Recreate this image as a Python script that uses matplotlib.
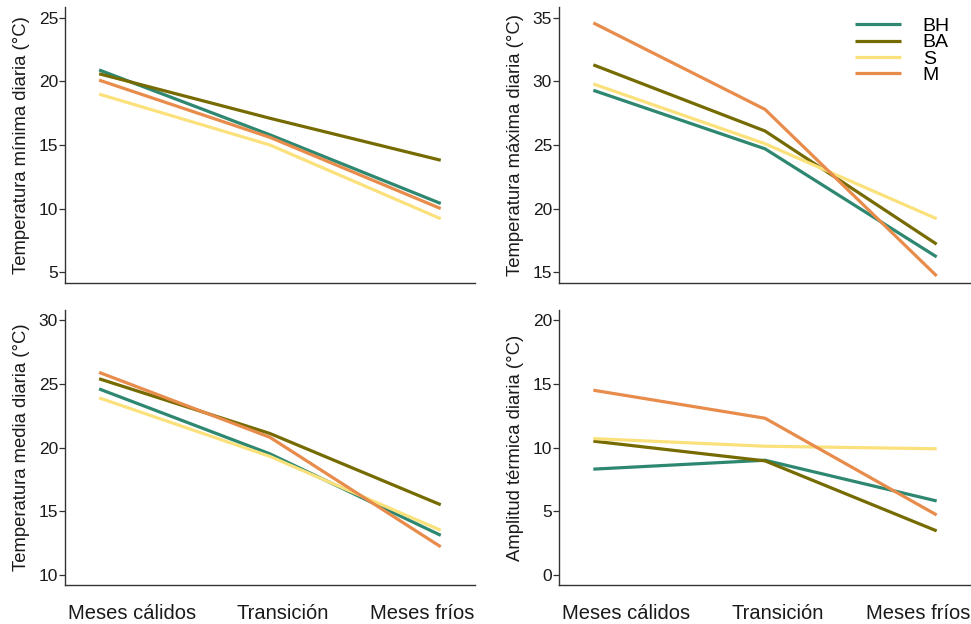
import matplotlib
matplotlib.use("Agg")
import matplotlib.pyplot as plt

plt.rcParams['font.family'] = ['Liberation Sans', 'DejaVu Sans']

# Seasonal periods on the x axis
periods = ["Meses cálidos", "Transición", "Meses fríos"]
sites = ["BH", "BA", "S", "M"]
colors = {"BH": "#2e8770", "BA": "#756b00", "S": "#fbe17c", "M": "#e88c4c"}

# Daily minimum temperature (°C)
tmin_bh = [20.9, 15.8, 10.4]
tmin_ba = [20.6, 17.1, 13.8]
tmin_s = [19.0, 15.0, 9.2]
tmin_m = [20.1, 15.6, 10.0]

# Daily maximum temperature (°C)
tmax_bh = [29.3, 24.7, 16.2]
tmax_ba = [31.3, 26.1, 17.2]
tmax_s = [29.8, 25.1, 19.2]
tmax_m = [34.6, 27.8, 14.7]

# Daily mean temperature (°C)
tmean_bh = [24.6, 19.5, 13.1]
tmean_ba = [25.4, 21.1, 15.5]
tmean_s = [23.9, 19.3, 13.5]
tmean_m = [25.9, 20.8, 12.2]

# Daily thermal amplitude (°C)
amp_bh = [8.3, 9.0, 5.8]
amp_ba = [10.5, 8.95, 3.45]
amp_s = [10.7, 10.1, 9.9]
amp_m = [14.5, 12.3, 4.7]

panels = [
    ("Temperatura mínima diaria (°C)", [tmin_bh, tmin_ba, tmin_s, tmin_m], (4.15, 25.85), [5, 10, 15, 20, 25]),
    ("Temperatura máxima diaria (°C)", [tmax_bh, tmax_ba, tmax_s, tmax_m], (14.15, 35.85), [15, 20, 25, 30, 35]),
    ("Temperatura media diaria (°C)", [tmean_bh, tmean_ba, tmean_s, tmean_m], (9.2, 30.8), [10, 15, 20, 25, 30]),
    ("Amplitud térmica diaria (°C)", [amp_bh, amp_ba, amp_s, amp_m], (-0.8, 20.8), [0, 5, 10, 15, 20]),
]

# axes rectangles [left, bottom, width, height] in figure fraction
rects = [
    [0.0669, 0.5465, 0.4222, 0.4423],
    [0.5757, 0.5465, 0.4243, 0.4423],
    [0.0669, 0.0625, 0.4222, 0.4407],
    [0.5757, 0.0625, 0.4243, 0.4407],
]

fig = plt.figure(figsize=(9.71, 6.24), dpi=100)
x = [1, 2, 3]
# period labels sit a little off the line vertices
label_pos = [1.19, 2.075, 2.89]

for i, (ylabel, series, ylim, yticks) in enumerate(panels):
    ax = fig.add_axes(rects[i])
    for name, vals in zip(sites, series):
        ax.plot(x, vals, color=colors[name], lw=2.3, label=name, solid_capstyle='butt')
    ax.set_xlim(0.8, 3.2)
    ax.set_ylim(*ylim)
    ax.set_yticks(yticks)
    ax.set_xticks(label_pos)
    if i >= 2:
        ax.set_xticklabels(periods, fontsize=14.5, color='#1a1a1a')
    else:
        ax.set_xticklabels([])
    ax.tick_params(axis='x', length=0, pad=14)
    ax.tick_params(axis='y', length=4, width=0.9, colors='#333333', labelsize=12.5, labelcolor='#1a1a1a', pad=1)
    ax.set_ylabel(ylabel, fontsize=13.3, color='#1a1a1a', labelpad=6)
    for s in ['top', 'right']:
        ax.spines[s].set_visible(False)
    for s in ['left', 'bottom']:
        ax.spines[s].set_color('#333333')
        ax.spines[s].set_linewidth(1.0)
    if i == 1:
        ax.legend(loc='upper left', bbox_to_anchor=(0.718, 0.962), frameon=False,
                  fontsize=14, handlelength=2.37, handletextpad=1.13,
                  labelspacing=-0.07, borderpad=0, borderaxespad=0)

fig.savefig("out.png", dpi=100)
